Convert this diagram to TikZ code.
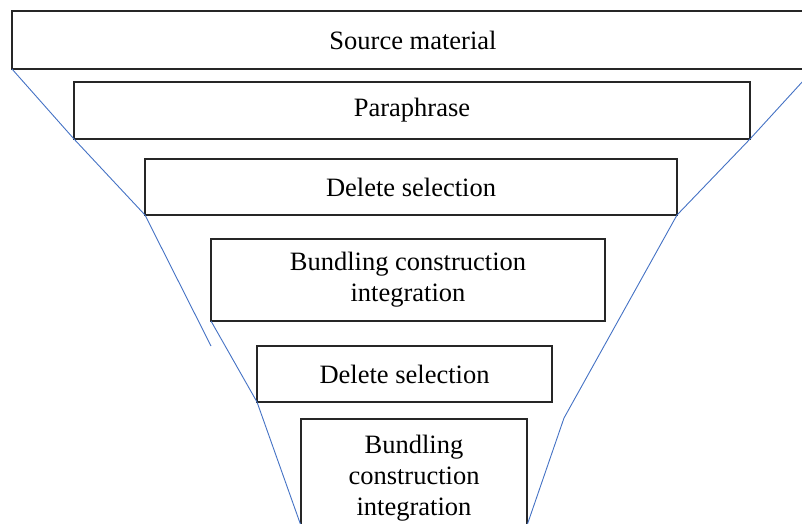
\documentclass[tikz,border=0pt]{standalone}
\usepackage{fontspec}
\setmainfont{Liberation Serif}
\definecolor{funnelblue}{RGB}{68,114,196}
\begin{document}
\begin{tikzpicture}[x=1pt,y=-1pt,
  stage/.style={draw=black!85,line width=1.2pt,rectangle,inner sep=0pt,outer sep=0pt,
    align=center,font=\fontsize{26.5}{31}\selectfont},
  funnel/.style={draw=funnelblue,line width=0.9pt,line join=round}]
\useasboundingbox (0,0) rectangle (802,523);
\clip (0,0) rectangle (802,523);
\node[stage,minimum width=802pt,minimum height=58pt] (b1) at (413,40) {Source material};
\node[stage,minimum width=676pt,minimum height=57pt] (b2) at (412,110.5) {Paraphrase};
\node[stage,minimum width=532pt,minimum height=56pt] (b3) at (411,187) {Delete selection};
\node[stage,minimum width=394pt,minimum height=82pt] (b4) at (408,280) {Bundling construction\\integration};
\node[stage,minimum width=295pt,minimum height=56pt] (b5) at (404.5,374) {Delete selection};
\node[stage,minimum width=226pt,minimum height=118pt] (b6) at (414,478) {Bundling\\construction\\integration};
\coordinate (lend) at (211,346);
\coordinate (lbot) at (305,537);
\coordinate (rknee) at (564,418);
\coordinate (rbot) at (523,537);
\draw[funnel] (b1.south west) -- (b2.south west) -- (b3.south west) -- (lend);
\draw[funnel] (b4.south west) -- (b5.south west) -- (lbot);
\draw[funnel] (b1.south east) -- (b2.south east) -- (b3.south east) -- (rknee) -- (rbot);
\end{tikzpicture}
\end{document}
